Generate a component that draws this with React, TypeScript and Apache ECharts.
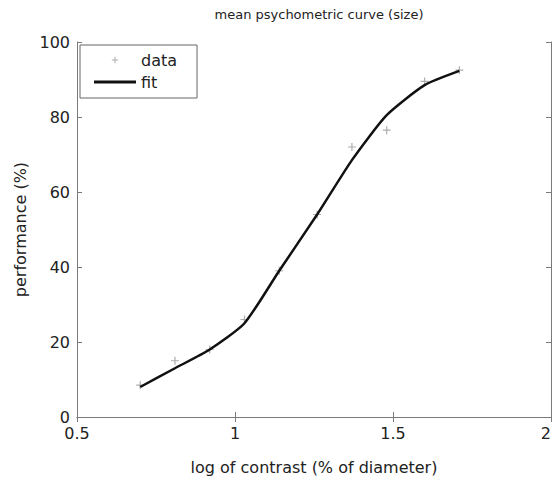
import React, { useEffect, useRef } from "react";
import * as echarts from "echarts";

// log contrast levels
const logContrast = [0.70, 0.81, 0.92, 1.03, 1.14, 1.26, 1.37, 1.48, 1.60, 1.71];
// measured mean performance (%)
const dataValues = [8.5, 15, 18, 26, 39, 54, 72, 76.5, 89.5, 92.5];
// fitted psychometric curve (%)
const fitValues = [8, 13, 18, 25, 39, 54, 68.5, 80.5, 88.5, 92.3];

const xTicks = [0.5, 1, 1.5, 2];
const yTicks = [0, 20, 40, 60, 80, 100];

const FONT = "DejaVu Sans";
const AXIS_COLOR = "#7a7a7a";
const PLUS = "path://M3.4,0h1.2v3.4h3.4v1.2h-3.4v3.4h-1.2v-3.4h-3.4v-1.2h3.4z";
// same plus, padded inside a larger box so the legend draws it small
const PLUS_ICON =
  "path://M0,0h0M16,16h0M7.4,4.4h1.2v3h3v1.2h-3v3h-1.2v-3h-3v-1.2h3z";
const LINE_ICON = "path://M0,0H42V3H0z";

export default function App() {
  const ref = useRef<HTMLDivElement>(null);

  useEffect(() => {
    if (!ref.current) return;
    const chart = echarts.init(ref.current, null, { renderer: "svg" });

    const axisLine = { show: true, lineStyle: { color: AXIS_COLOR, width: 1 } };
    const axisTick = { show: true, inside: true, length: 5, lineStyle: { color: AXIS_COLOR } };
    const label = { color: "#222", fontFamily: FONT, fontSize: 16 };

    chart.setOption({
      animation: false,
      backgroundColor: "#fff",
      title: {
        text: "mean psychometric curve (size)",
        left: 314,
        top: 3,
        textAlign: "center",
        textStyle: { fontFamily: FONT, fontSize: 13, fontWeight: "normal", color: "#222" },
      },
      grid: { left: 77, top: 42, right: 8, bottom: 66, containLabel: false },
      legend: {
        orient: "vertical",
        left: 80,
        top: 45,
        padding: [7, 20, 8, 14],
        itemGap: 6,
        itemWidth: 42,
        itemHeight: 14,
        borderColor: "#666",
        borderWidth: 1,
        backgroundColor: "#fff",
        textStyle: { fontFamily: FONT, fontSize: 16, color: "#222" },
        data: [
          { name: "data", icon: PLUS_ICON, itemStyle: { color: "#999" } },
          { name: "fit", icon: LINE_ICON, itemStyle: { color: "#111" } },
        ],
      },
      xAxis: [
        {
          type: "value",
          min: 0.5,
          max: 2,
          interval: 0.5,
          axisLine,
          axisTick,
          splitLine: { show: false },
          axisLabel: {
            ...label,
            margin: 8,
            alignMaxLabel: "right",
            formatter: (v: number) => (xTicks.includes(v) ? String(v) : ""),
          },
          name: "log of contrast (% of diameter)",
          nameLocation: "middle",
          nameGap: 42,
          nameTextStyle: { ...label },
        },
        {
          type: "value",
          position: "top",
          min: 0.5,
          max: 2,
          interval: 0.5,
          axisLine,
          axisTick,
          axisLabel: { show: false },
          splitLine: { show: false },
        },
      ],
      yAxis: [
        {
          type: "value",
          min: 0,
          max: 100,
          interval: 20,
          axisLine,
          axisTick,
          splitLine: { show: false },
          axisLabel: { ...label, margin: 7, formatter: (v: number) => (yTicks.includes(v) ? String(v) : "") },
          name: "performance (%)",
          nameLocation: "middle",
          nameGap: 47,
          nameTextStyle: { ...label },
        },
        {
          type: "value",
          position: "right",
          min: 0,
          max: 100,
          interval: 20,
          axisLine,
          axisTick,
          axisLabel: { show: false },
          splitLine: { show: false },
        },
      ],
      series: [
        {
          name: "data",
          type: "scatter",
          symbol: PLUS,
          symbolSize: 8,
          itemStyle: { color: "#999" },
          data: logContrast.map((x, i) => [x, dataValues[i]]),
          z: 2,
        },
        {
          name: "fit",
          type: "line",
          symbol: "none",
          smooth: 0.2,
          lineStyle: { color: "#111", width: 2.5 },
          itemStyle: { color: "#111" },
          data: logContrast.map((x, i) => [x, fitValues[i]]),
          z: 3,
        },
      ],
    });

    return () => chart.dispose();
  }, []);

  return (
    <div
      ref={ref}
      style={{ position: "absolute", left: 0, top: 0, width: 559, height: 483 }}
    />
  );
}
